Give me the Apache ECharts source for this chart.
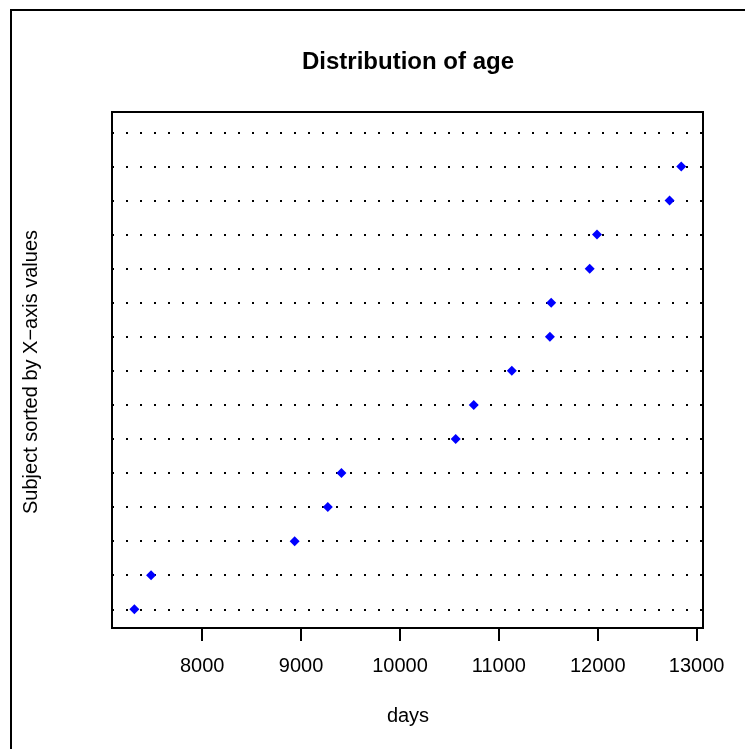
<!DOCTYPE html>
<html>
<head>
<meta charset="utf-8">
<script src="https://cdn.jsdelivr.net/npm/echarts@6/dist/echarts.min.js"></script>
<style>
html,body{margin:0;padding:0;background:#fff;}
#chart{width:745px;height:749px;}
</style>
</head>
<body>
<div id="chart"></div>
<script>
// Data (rows sorted by x-axis value; top row has no value)
const rowPositions = [1, 2, 3, 4, 5, 6, 7, 8, 9, 10, 11, 12, 13, 14, 15];
const ageDays = [7314, 7483, 8935, 9270, 9408, 10563, 10746, 11131, 11516, 11529, 11918, 11992, 12726, 12844, null];
const xTickValues = [8000, 9000, 10000, 11000, 12000, 13000];
const titleText = 'Distribution of age';
const xLabel = 'days';
const yLabel = 'Subject sorted by X\u2212axis values';

const FONT = '"Liberation Sans", Arial, Helvetica, sans-serif';
const chart = echarts.init(document.getElementById('chart'), null, {renderer: 'canvas'});

const points = [];
rowPositions.forEach((r, i) => { if (ageDays[i] !== null) points.push([ageDays[i], r]); });

chart.setOption({
  animation: false,
  backgroundColor: '#fff',
  grid: {left: 112, right: 42, top: 112, bottom: 121, show: true, borderColor: '#000', borderWidth: 2, backgroundColor: 'transparent'},
  xAxis: {
    type: 'value', min: 7088, max: 13064,
    axisLine: {show: false},
    splitLine: {show: false},
    axisTick: {show: true, length: 13, lineStyle: {color: '#000', width: 2}, customValues: xTickValues},
    axisLabel: {color: '#000', fontSize: 20, fontFamily: FONT, margin: 28, customValues: xTickValues, formatter: v => String(v)}
  },
  yAxis: {type: 'value', min: 0.45, max: 15.6, show: false},
  series: [
    {
      type: 'scatter', data: [], silent: true,
      markLine: {
        silent: true, symbol: 'none', label: {show: false},
        lineStyle: {color: '#000', width: 2, type: [2, 12]},
        data: rowPositions.map(r => ({yAxis: r}))
      }
    },
    {
      type: 'scatter', data: points, symbol: 'diamond', symbolSize: 10,
      itemStyle: {color: '#0000ff', opacity: 1}, z: 5
    }
  ],
  graphic: [
    {type: 'rect', shape: {x: 11, y: 10, width: 800, height: 800}, style: {fill: 'none', stroke: '#000', lineWidth: 2}, silent: true},
    {type: 'text', x: 408, y: 62, style: {text: titleText, font: 'bold 24px ' + FONT, fill: '#000', textAlign: 'center', textVerticalAlign: 'middle'}},
    {type: 'text', x: 408, y: 716, style: {text: xLabel, font: '20px ' + FONT, fill: '#000', textAlign: 'center', textVerticalAlign: 'middle'}},
    {type: 'text', x: 31, y: 372, rotation: Math.PI / 2, style: {text: yLabel, font: '20px ' + FONT, fill: '#000', textAlign: 'center', textVerticalAlign: 'middle'}}
  ]
});
</script>
</body>
</html>
